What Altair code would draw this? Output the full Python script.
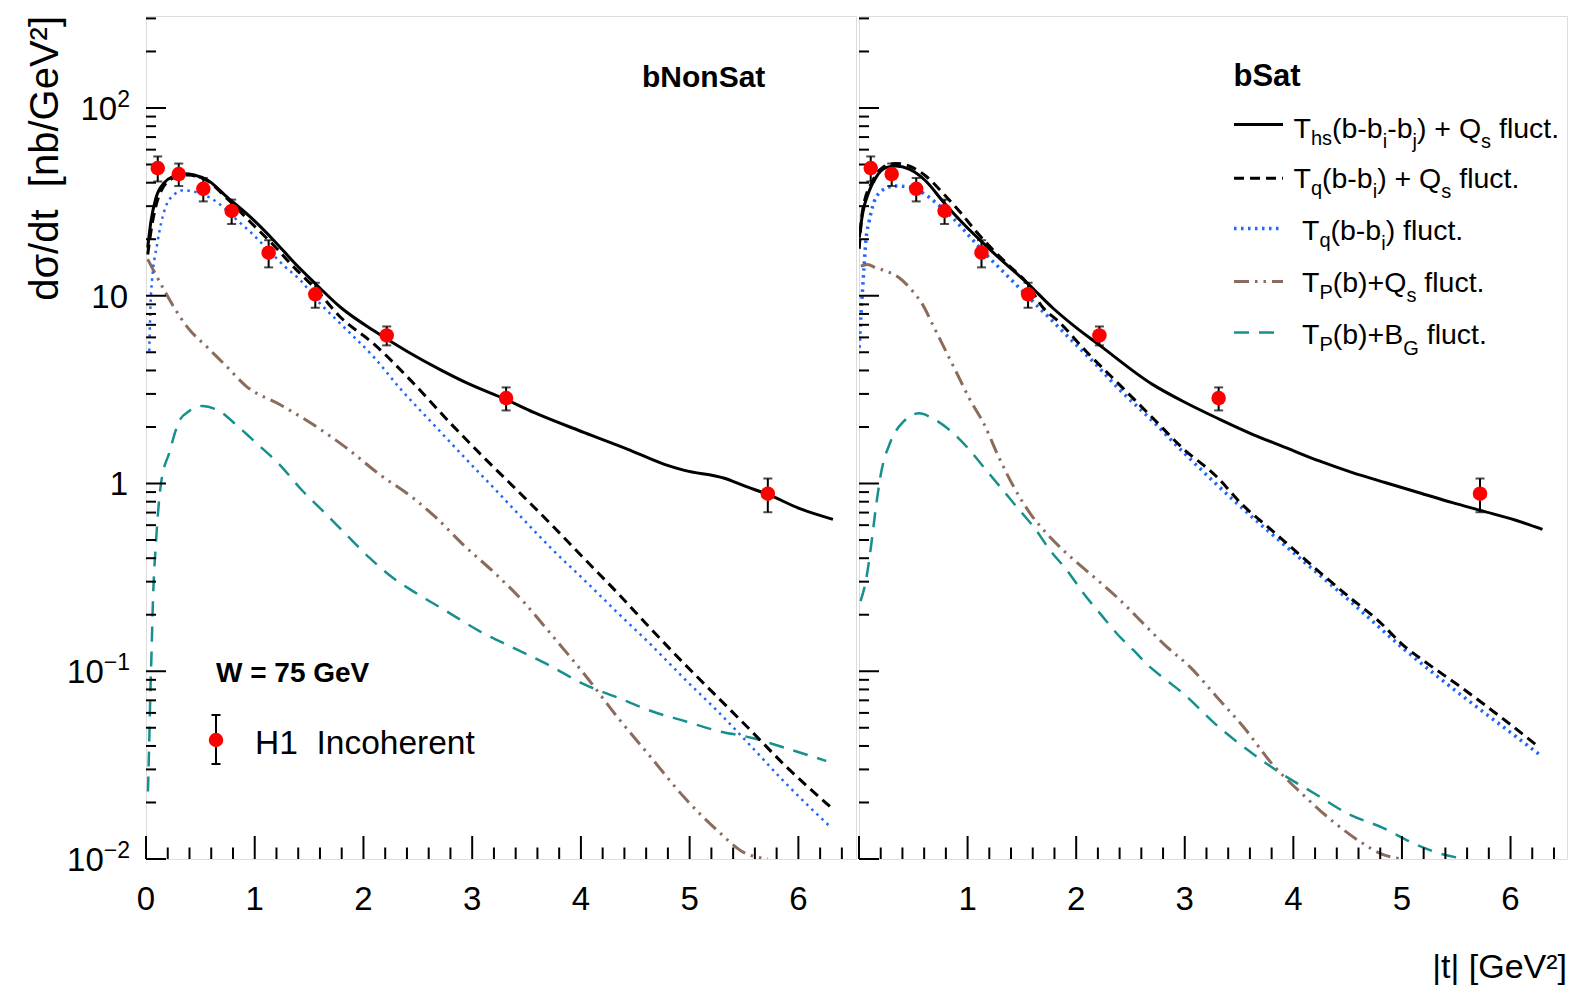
import altair as alt
import pandas as pd

FONT = "Liberation Sans"

# ------------------------------------------------------------------
# H1 incoherent J/psi photoproduction at W = 75 GeV
# ------------------------------------------------------------------
h1_t = [0.108, 0.301, 0.527, 0.788, 1.128, 1.557, 2.214, 3.312, 5.719]
h1_xsec = [47.9, 44.5, 37.1, 28.3, 16.96, 10.18, 6.15, 2.85, 0.883]
h1_err = [7.3, 6.1, 5.3, 4.2, 2.8, 1.55, 0.71, 0.40, 0.18]

# ------------------------------------------------------------------
# Model curves: |t| [GeV^2] and log10(dsigma/dt [nb/GeV^2])
# ------------------------------------------------------------------
# bNonSat
ns_hs_t = [0.016, 0.046, 0.092, 0.168, 0.260, 0.352, 0.444, 0.568, 0.752, 0.966, 1.180, 1.364, 1.548,
           1.794, 2.100, 2.407, 2.714, 2.960, 3.312, 3.572, 4.032, 4.432, 4.768, 4.952, 5.320, 5.504,
           5.719, 6.026, 6.318]
ns_hs_lg = [1.256, 1.398, 1.522, 1.602, 1.638, 1.650, 1.643, 1.615, 1.522, 1.416, 1.292, 1.176, 1.070,
            0.936, 0.812, 0.702, 0.604, 0.533, 0.447, 0.377, 0.271, 0.182, 0.102, 0.070, 0.028, -0.013,
            -0.058, -0.137, -0.191]

ns_qqs_t = [0.016, 0.046, 0.138, 0.260, 0.384, 0.568, 0.752, 0.966, 1.180, 1.334, 1.548, 1.794, 2.100,
            2.410, 2.810, 3.110, 3.420, 3.730, 4.030, 4.340, 4.640, 4.950, 5.260, 5.570, 5.870, 6.300]
ns_qqs_lg = [1.220, 1.345, 1.558, 1.629, 1.643, 1.611, 1.514, 1.389, 1.265, 1.168, 1.043, 0.883, 0.741,
             0.564, 0.315, 0.137, -0.040, -0.220, -0.400, -0.585, -0.772, -0.960, -1.140, -1.320,
             -1.498, -1.725]

ns_q_t = [0.030, 0.046, 0.108, 0.168, 0.260, 0.352, 0.476, 0.660, 0.812, 0.966, 1.120, 1.272, 1.426,
          1.580, 1.794, 2.100, 2.346, 2.652, 2.960, 3.266, 3.420, 3.726, 4.032, 4.340, 4.646, 4.952,
          5.260, 5.566, 5.872, 6.302]
ns_q_lg = [0.706, 1.009, 1.292, 1.451, 1.540, 1.562, 1.549, 1.496, 1.416, 1.336, 1.247, 1.158, 1.079,
           0.972, 0.848, 0.670, 0.500, 0.310, 0.120, -0.065, -0.160, -0.345, -0.515, -0.690, -0.860,
           -1.040, -1.215, -1.400, -1.590, -1.833]

ns_pqs_t = [0.016, 0.138, 0.260, 0.384, 0.568, 0.752, 0.920, 1.226, 1.534, 1.840, 2.146, 2.454, 2.668,
            2.914, 3.220, 3.466, 3.726, 4.032, 4.340, 4.646, 4.952, 5.260, 5.474, 5.720]
ns_pqs_lg = [1.194, 1.061, 0.936, 0.830, 0.723, 0.617, 0.519, 0.422, 0.315, 0.191, 0.049, -0.076, -0.182,
             -0.324, -0.484, -0.626, -0.803, -1.016, -1.247, -1.460, -1.673, -1.851, -1.957, -2.000]

ns_pbg_t = [0.018, 0.030, 0.040, 0.052, 0.062, 0.092, 0.138, 0.214, 0.306, 0.398, 0.521, 0.644, 0.859,
            1.012, 1.226, 1.441, 1.626, 1.840, 2.054, 2.270, 2.454, 2.760, 3.066, 3.374, 3.680, 4.032,
            4.340, 4.646, 4.952, 5.260, 5.566, 5.872, 6.256]
ns_pbg_lg = [-1.640, -1.370, -1.120, -0.880, -0.660, -0.310, 0.000, 0.164, 0.333, 0.386, 0.413, 0.395,
             0.297, 0.217, 0.102, -0.040, -0.146, -0.271, -0.395, -0.502, -0.573, -0.679, -0.786,
             -0.874, -0.960, -1.070, -1.141, -1.212, -1.265, -1.318, -1.354, -1.407, -1.478]

# bSat
s_hs_t = [0.002, 0.032, 0.094, 0.155, 0.247, 0.339, 0.462, 0.615, 0.769, 0.950, 1.122, 1.330, 1.545,
          1.782, 2.000, 2.205, 2.702, 3.009, 3.317, 3.623, 3.930, 4.238, 4.544, 4.851, 5.158, 5.465,
          5.741, 6.048, 6.294]
s_hs_lg = [1.309, 1.434, 1.558, 1.629, 1.682, 1.691, 1.674, 1.611, 1.505, 1.390, 1.292, 1.180, 1.070,
           0.936, 0.830, 0.741, 0.528, 0.430, 0.343, 0.262, 0.191, 0.120, 0.058, 0.004, -0.049, -0.102,
           -0.146, -0.196, -0.244]

s_qqs_t = [0.002, 0.032, 0.124, 0.216, 0.339, 0.462, 0.615, 0.769, 0.923, 1.075, 1.229, 1.383, 1.536,
           1.690, 1.843, 2.088, 2.396, 2.703, 2.979, 3.287, 3.534, 3.781, 4.028, 4.274, 4.521, 4.768,
           5.016, 5.262, 5.508, 5.755, 6.002, 6.249]
s_qqs_lg = [1.250, 1.451, 1.611, 1.682, 1.705, 1.691, 1.638, 1.549, 1.451, 1.345, 1.247, 1.160, 1.075,
            0.940, 0.860, 0.706, 0.528, 0.350, 0.189, 0.040, -0.115, -0.239, -0.364, -0.488, -0.608,
            -0.723, -0.863, -0.970, -1.070, -1.176, -1.285, -1.398]

s_q_t = [0.002, 0.017, 0.032, 0.048, 0.063, 0.094, 0.155, 0.247, 0.339, 0.462, 0.585, 0.707, 0.861,
         1.015, 1.168, 1.321, 1.475, 1.628, 1.812, 1.996, 2.180, 2.396, 2.703, 2.979, 3.531, 4.028,
         4.521, 5.014, 5.508, 6.002, 6.263]
s_q_lg = [0.723, 0.883, 1.025, 1.167, 1.292, 1.398, 1.522, 1.572, 1.585, 1.579, 1.549, 1.496, 1.416,
          1.318, 1.221, 1.132, 1.043, 0.954, 0.848, 0.741, 0.635, 0.502, 0.333, 0.171, -0.132, -0.382,
          -0.626, -0.880, -1.110, -1.327, -1.442]

s_pqs_t = [0.017, 0.078, 0.155, 0.247, 0.370, 0.493, 0.585, 0.677, 0.769, 0.891, 1.029, 1.153, 1.275,
           1.429, 1.582, 1.736, 1.889, 2.135, 2.380, 2.626, 2.810, 3.055, 3.301, 3.547, 3.808, 4.084,
           4.360, 4.606, 4.820, 5.005]
s_pqs_lg = [1.158, 1.167, 1.149, 1.132, 1.096, 1.025, 0.954, 0.848, 0.741, 0.599, 0.439, 0.315, 0.156,
            -0.022, -0.164, -0.271, -0.360, -0.484, -0.608, -0.750, -0.857, -0.981, -1.141, -1.301,
            -1.496, -1.655, -1.798, -1.904, -1.975, -2.000]

s_pbg_t = [0.014, 0.063, 0.109, 0.155, 0.201, 0.293, 0.416, 0.554, 0.692, 0.845, 0.999, 1.153, 1.306,
           1.459, 1.613, 1.766, 1.920, 2.074, 2.227, 2.380, 2.534, 2.687, 2.841, 2.995, 3.285, 3.593,
           3.900, 4.206, 4.514, 4.820, 5.127, 5.373, 5.585]
s_pbg_lg = [-0.626, -0.519, -0.342, -0.129, 0.049, 0.226, 0.333, 0.374, 0.342, 0.280, 0.191, 0.084,
            -0.022, -0.129, -0.235, -0.360, -0.466, -0.590, -0.697, -0.803, -0.892, -0.981, -1.052,
            -1.123, -1.283, -1.425, -1.549, -1.655, -1.762, -1.833, -1.922, -1.975, -2.000]

LEGEND_ROWS = [
    ("hs", [("T", None), ("hs", 7), ("(b-b", None), ("i", 10), ("-b", None), ("j", 10),
            (") + Q", None), ("s", 10), (" fluct.", None)]),
    ("q_qs", [("T", None), ("q", 7), ("(b-b", None), ("i", 10), (") + Q", None), ("s", 10),
              (" fluct.", None)]),
    ("q", [("T", None), ("q", 7), ("(b-b", None), ("i", 10), (") fluct.", None)]),
    ("p_qs", [("T", None), ("P", 7), ("(b)+Q", None), ("s", 10), (" fluct.", None)]),
    ("p_bg", [("T", None), ("P", 7), ("(b)+B", None), ("G", 11), (" fluct.", None)]),
]

# ------------------------------------------------------------------
# Geometry and styles
# ------------------------------------------------------------------
H = 843
W_LEFT, W_RIGHT = 710, 708
T_MAX_LEFT, T_MAX_RIGHT = 6.53, 6.52
Y_MIN, Y_MAX = 0.01, 309.0
YS = alt.Scale(type="log", domain=[Y_MIN, Y_MAX], nice=False)

STYLES = {
    "hs": {"color": "#000000", "strokeWidth": 3.0},
    "q_qs": {"color": "#000000", "strokeWidth": 3.0, "strokeDash": [10, 6]},
    "q": {"color": "#1f66ff", "strokeWidth": 2.5, "strokeDash": [2.5, 4.5]},
    "p_qs": {"color": "#8b6c5c", "strokeWidth": 3.0, "strokeDash": [15, 6, 2.5, 6, 2.5, 6]},
    "p_bg": {"color": "#15908d", "strokeWidth": 2.5, "strokeDash": [15, 10]},
}

# Helvetica / Liberation Sans advance widths (1/1000 em)
ADV = {" ": 278, "(": 333, ")": 333, "+": 584, "-": 333, ".": 278, "/": 278, "[": 278, "]": 278,
       "=": 584, "\u2212": 584, "B": 667, "G": 778, "H": 722, "I": 278, "P": 667, "Q": 778, "T": 611,
       "V": 667, "W": 944, "b": 556, "c": 500, "d": 556, "e": 556, "f": 278, "h": 556, "i": 222,
       "j": 222, "l": 222, "n": 556, "o": 556, "q": 556, "r": 333, "s": 500, "t": 278, "u": 556}


def text_width(s, size):
    return sum(ADV.get(c, 556) for c in s) * size / 1000.0


ONE = pd.DataFrame({"k": [0]})


def label(text, x, y, size, bold=False, align="left", angle=None):
    props = dict(font=FONT, fontSize=size, align=align, baseline="alphabetic", color="black")
    if bold:
        props["fontWeight"] = "bold"
    if angle is not None:
        props["angle"] = angle
    # non-breaking spaces keep doubled blanks in the SVG text
    return alt.Chart(ONE).mark_text(**props).encode(
        x=alt.value(x), y=alt.value(y), text=alt.value(text.replace(" ", "\u00a0")))


def rich(pieces, x0, base, main=28.5, sub=20):
    """Place a label made of normal and subscript pieces side by side."""
    out, x = [], x0
    for txt, off in pieces:
        size = main if off is None else sub
        y = base if off is None else base + off
        body = txt.lstrip(" ")
        x += text_width(txt[: len(txt) - len(body)], size)
        out.append(label(body, x, y, size))
        x += text_width(body, size)
    return out


def curve(t, lg, key, xs, width_override=None):
    df = pd.DataFrame({"t": t, "xsec": [10 ** v for v in lg]})
    st = dict(STYLES[key])
    if width_override:
        st["strokeWidth"] = width_override
    return alt.Chart(df).mark_line(clip=True, interpolate="monotone", **st).encode(
        x=alt.X("t:Q", scale=xs, axis=None),
        y=alt.Y("xsec:Q", scale=YS, axis=None))


def frame_ticks(xs, t_max):
    y_major = pd.DataFrame({"v": [0.01, 0.1, 1, 10, 100]})
    y_minor = pd.DataFrame({"v": [m * 10.0 ** e for e in range(-2, 3) for m in range(2, 10)
                                  if m * 10.0 ** e < Y_MAX]})
    x_major = pd.DataFrame({"t": [k for k in range(0, 7) if k <= t_max]})
    x_minor = pd.DataFrame({"t": [round(0.2 * k, 1) for k in range(1, 33) if k % 5]})
    rule = dict(color="black", strokeWidth=2)
    return [
        alt.Chart(y_major).mark_rule(**rule).encode(
            y=alt.Y("v:Q", scale=YS, axis=None), x=alt.value(0), x2=alt.value(20)),
        alt.Chart(y_minor).mark_rule(**rule).encode(
            y=alt.Y("v:Q", scale=YS, axis=None), x=alt.value(0), x2=alt.value(10)),
        alt.Chart(x_major).mark_rule(**rule).encode(
            x=alt.X("t:Q", scale=xs, axis=None), y=alt.value(H), y2=alt.value(H - 23)),
        alt.Chart(x_minor).mark_rule(**rule).encode(
            x=alt.X("t:Q", scale=xs, axis=None), y=alt.value(H), y2=alt.value(H - 11.5)),
    ]


def x_labels(xs, values):
    df = pd.DataFrame({"t": values, "lab": [str(v) for v in values]})
    return alt.Chart(df).mark_text(font=FONT, fontSize=33, align="center", baseline="alphabetic",
                                   color="black").encode(
        x=alt.X("t:Q", scale=xs, axis=None), y=alt.value(H + 51), text="lab:N")


def y_labels():
    out = []
    for v, base, exp in [(100, "10", "2"), (10, "10", ""), (1, "1", ""),
                         (0.1, "10", "\u22121"), (0.01, "10", "\u22122")]:
        df = pd.DataFrame({"v": [v]})
        if exp:
            ex = -16 - text_width(exp, 23)
            out.append(alt.Chart(df).mark_text(font=FONT, fontSize=23, align="left",
                                               baseline="alphabetic", dy=-1, color="black").encode(
                x=alt.value(ex), y=alt.Y("v:Q", scale=YS, axis=None), text=alt.value(exp)))
            right = ex
        else:
            right = -18
        out.append(alt.Chart(df).mark_text(font=FONT, fontSize=33, align="right",
                                           baseline="alphabetic", dy=12, color="black").encode(
            x=alt.value(right), y=alt.Y("v:Q", scale=YS, axis=None), text=alt.value(base)))
    return out


def h1_layers(xs):
    lo = [v - e for v, e in zip(h1_xsec, h1_err)]
    hi = [v + e for v, e in zip(h1_xsec, h1_err)]
    df = pd.DataFrame({"t": h1_t, "xsec": h1_xsec, "lo": lo, "hi": hi})
    base = alt.Chart(df)
    X = alt.X("t:Q", scale=xs, axis=None)
    return [
        base.mark_rule(color="black", strokeWidth=2).encode(
            x=X, y=alt.Y("lo:Q", scale=YS, axis=None), y2="hi:Q"),
        base.mark_tick(orient="horizontal", size=9, thickness=2, color="black").encode(
            x=X, y=alt.Y("lo:Q", scale=YS, axis=None)),
        base.mark_tick(orient="horizontal", size=9, thickness=2, color="black").encode(
            x=X, y=alt.Y("hi:Q", scale=YS, axis=None)),
        base.mark_point(filled=True, color="#ff0000", size=210, opacity=1).encode(
            x=X, y=alt.Y("xsec:Q", scale=YS, axis=None)),
    ]


# ------------------------------------------------------------------
# Left panel: bNonSat
# ------------------------------------------------------------------
xs_left = alt.Scale(domain=[0, T_MAX_LEFT], nice=False, zero=False)
left_layers = [
    # invisible anchor fixing the page offset of the plot frame
    alt.Chart(ONE).mark_rule(strokeOpacity=0, strokeWidth=1).encode(
        x=alt.value(-145), x2=alt.value(-144), y=alt.value(-15), y2=alt.value(-14)),
    curve(ns_pbg_t, ns_pbg_lg, "p_bg", xs_left),
    curve(ns_pqs_t, ns_pqs_lg, "p_qs", xs_left),
    curve(ns_q_t, ns_q_lg, "q", xs_left),
    curve(ns_qqs_t, ns_qqs_lg, "q_qs", xs_left),
    curve(ns_hs_t, ns_hs_lg, "hs", xs_left),
]
left_layers += frame_ticks(xs_left, T_MAX_LEFT)
left_layers += h1_layers(xs_left)
left_layers += [x_labels(xs_left, [0, 1, 2, 3, 4, 5, 6])]
left_layers += y_labels()
left_layers += [
    label("d\u03c3/dt  [nb/GeV\u00b2]", -88, 0, 40, align="right", angle=270),
    label("bNonSat", 496, 71, 30, bold=True),
    label("W = 75 GeV", 70, 666, 28, bold=True),
    label("H1  Incoherent", 109, 738, 33.5),
    alt.Chart(ONE).mark_rule(color="black", strokeWidth=2).encode(
        x=alt.value(70), y=alt.value(699), y2=alt.value(748)),
    alt.Chart(ONE).mark_rule(color="black", strokeWidth=2).encode(
        x=alt.value(65.5), x2=alt.value(74.5), y=alt.value(699)),
    alt.Chart(ONE).mark_rule(color="black", strokeWidth=2).encode(
        x=alt.value(65.5), x2=alt.value(74.5), y=alt.value(748)),
    alt.Chart(ONE).mark_point(filled=True, color="#ff0000", size=210, opacity=1).encode(
        x=alt.value(70), y=alt.value(724)),
]
left = alt.layer(*left_layers).properties(width=W_LEFT, height=H)

# ------------------------------------------------------------------
# Right panel: bSat
# ------------------------------------------------------------------
xs_right = alt.Scale(domain=[0, T_MAX_RIGHT], nice=False, zero=False)
right_layers = [
    curve(s_pbg_t, s_pbg_lg, "p_bg", xs_right),
    curve(s_pqs_t, s_pqs_lg, "p_qs", xs_right),
    curve(s_q_t, s_q_lg, "q", xs_right, width_override=3.5),
    curve(s_qqs_t, s_qqs_lg, "q_qs", xs_right),
    curve(s_hs_t, s_hs_lg, "hs", xs_right),
]
right_layers += frame_ticks(xs_right, T_MAX_RIGHT)
right_layers += h1_layers(xs_right)
right_layers += [x_labels(xs_right, [1, 2, 3, 4, 5, 6])]
right_layers += [
    label("bSat", 374.5, 70, 31, bold=True),
    label("|t| [GeV\u00b2]", 708, 962, 34, align="right"),
]

# legend: line samples and composed labels
line_y = [108.6, 162.2, 212.6, 265.6, 316.6]
text_base = [122, 172.3, 224.3, 276.3, 328.4]
text_x0 = [434.5, 434.5, 443, 443, 443]
for (key, pieces), ly, tb, tx in zip(LEGEND_ROWS, line_y, text_base, text_x0):
    st = dict(STYLES[key])
    if key == "q":
        st["strokeWidth"] = 3.5
    right_layers.append(alt.Chart(ONE).mark_rule(**st).encode(
        x=alt.value(375), x2=alt.value(424), y=alt.value(ly)))
    right_layers += rich(pieces, tx, tb)

right = alt.layer(*right_layers).properties(width=W_RIGHT, height=H)

chart = alt.hconcat(left, right, spacing=0, padding=0).configure_view(
    stroke="black", strokeWidth=2.5
).configure(font=FONT)

chart.save("out.html", embed_options={"renderer": "svg", "actions": False})
